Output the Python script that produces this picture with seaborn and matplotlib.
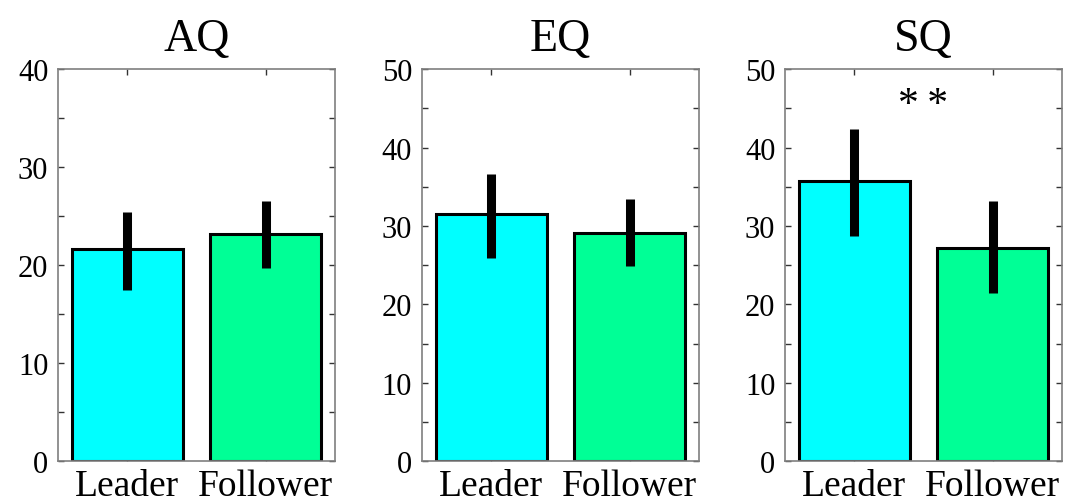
import matplotlib
matplotlib.use("Agg")
import matplotlib.pyplot as plt
import seaborn as sns
import pandas as pd
from matplotlib.ticker import MultipleLocator

groups = ["Leader", "Follower"]
scales = ["AQ", "EQ", "SQ"]
means = {"AQ": [21.7, 23.2], "EQ": [31.5, 29.1], "SQ": [35.8, 27.2]}
err_low = {"AQ": [17.5, 19.7], "EQ": [25.9, 24.9], "SQ": [28.7, 21.5]}
err_high = {"AQ": [25.4, 26.6], "EQ": [36.7, 33.5], "SQ": [42.4, 33.2]}
ylims = {"AQ": 40, "EQ": 50, "SQ": 50}
bar_colors = ["#00FFFF", "#00FF96"]

sns.set_style("white")
plt.rcParams["font.family"] = ["Liberation Serif", "DejaVu Serif"]
plt.rcParams["text.color"] = "black"
plt.rcParams["xtick.color"] = "black"
plt.rcParams["ytick.color"] = "black"

fig = plt.figure(figsize=(10.77, 5.02), dpi=100)
lefts = [0.0539, 0.3918, 0.7289]
for i, sc in enumerate(scales):
    ax = fig.add_axes([lefts[i], 0.0791, 0.2572, 0.781])
    df = pd.DataFrame({"group": groups, "value": means[sc]})
    sns.barplot(data=df, x="group", y="value", hue="group", palette=bar_colors,
                order=groups, hue_order=groups, width=0.8, legend=False,
                saturation=1, edgecolor="black", linewidth=2.2, ax=ax, zorder=2)
    ax.vlines(range(len(groups)), err_low[sc], err_high[sc], colors="black",
              linewidth=6.5, zorder=3)
    ax.set_xlim(-0.5, 1.5)
    ax.set_ylim(0, ylims[sc])
    ax.yaxis.set_major_locator(MultipleLocator(10))
    ax.yaxis.set_minor_locator(MultipleLocator(5))
    ax.tick_params(axis="both", which="both", direction="in", top=True, right=True,
                   left=True, bottom=True, color="#333333")
    ax.tick_params(axis="y", which="major", length=4, width=1, labelsize=22, pad=7,
                   labelcolor="black")
    ax.tick_params(axis="y", which="minor", length=4, width=1)
    ax.tick_params(axis="x", which="major", length=4, width=1, labelsize=27, pad=5,
                   labelcolor="black")
    ax.set_xlabel("")
    ax.set_ylabel("")
    for s in ax.spines.values():
        s.set_visible(True)
        s.set_color("#7f7f7f")
        s.set_linewidth(1.2)
    ax.set_title(sc, fontsize=33, pad=14, color="black")
    if sc == "SQ":
        ax.text(0.5, 45.5, "*\u2009*", ha="center", va="center", fontsize=30, color="black")

fig.savefig("out.png", dpi=100)
